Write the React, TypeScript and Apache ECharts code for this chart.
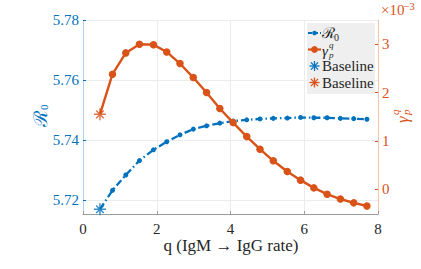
import React, { useEffect, useRef } from "react";
import * as echarts from "echarts";

// q values (IgM -> IgG rate); first entry is the baseline
const qValues = [0.46, 0.8, 1.16, 1.53, 1.91, 2.27, 2.63, 2.99, 3.35, 3.71, 4.07, 4.44, 4.8, 5.16, 5.54, 5.9, 6.26, 6.62, 6.98, 7.34, 7.7];
// R0 values (left axis)
const r0Values = [5.7169, 5.7232, 5.7283, 5.7331, 5.7367, 5.7394, 5.7417, 5.7436, 5.7447, 5.7456, 5.7463, 5.7467, 5.747, 5.7472, 5.7473, 5.7475, 5.7474, 5.7474, 5.7472, 5.7471, 5.7469];
// gamma_p^q values, in units of 10^-3 (right axis)
const gammaValues = [1.55, 2.38, 2.82, 3.0, 2.99, 2.84, 2.6, 2.31, 2.0, 1.67, 1.38, 1.09, 0.83, 0.59, 0.37, 0.19, 0.03, -0.1, -0.2, -0.28, -0.345];

const BLUE = "#0072BD";
const ORANGE = "#D95319";
const TXT = "#262626";
const FONT = "Liberation Serif";

const ASTERISK =
  "path://M8.8 0L11.2 0L11.2 20L8.8 20Z M0 8.8L20 8.8L20 11.2L0 11.2Z M2.8 4.5L4.5 2.8L17.2 15.5L15.5 17.2Z M15.5 2.8L17.2 4.5L4.5 17.2L2.8 15.5Z";

function asteriskLines(cx: number, cy: number, r: number, color: string) {
  const d = r * 0.72;
  const segs = [
    [cx - r, cy, cx + r, cy],
    [cx, cy - r, cx, cy + r],
    [cx - d, cy - d, cx + d, cy + d],
    [cx - d, cy + d, cx + d, cy - d],
  ];
  return segs.map((s) => ({
    type: "line",
    silent: true,
    z: 12,
    shape: { x1: s[0], y1: s[1], x2: s[2], y2: s[3] },
    style: { stroke: color, lineWidth: 1.3 },
  }));
}

function txt(text: string, x: number, y: number, fill: string, fontSize: number, italic = false, align = "left") {
  const st: any = {
    text,
    x,
    y,
    fill,
    fontSize,
    fontFamily: FONT,
    textAlign: align,
    textVerticalAlign: "middle",
  };
  if (italic) st.fontStyle = "italic";
  return { type: "text", silent: true, z: 12, style: st };
}

export default function App() {
  const ref = useRef<HTMLDivElement>(null);
  useEffect(() => {
    if (!ref.current) return;
    const chart = echarts.init(ref.current, null, { renderer: "svg" });
    const r0Data = qValues.map((q, i) =>
      i === 0 ? { value: [q, r0Values[i]], symbol: "none" } : [q, r0Values[i]]
    );
    const gData = qValues.map((q, i) =>
      i === 0 ? { value: [q, gammaValues[i]], symbol: "none" } : [q, gammaValues[i]]
    );

    const rows = [33, 49.5, 66, 82.5];

    const option: any = {
      animation: false,
      backgroundColor: "#ffffff",
      grid: { left: 83, right: 43, top: 20, bottom: 55, outerBoundsMode: "none" },
      xAxis: {
        type: "value",
        min: 0,
        max: 8,
        interval: 2,
        axisLine: { show: true, onZero: false, lineStyle: { color: "#9b9b9b", width: 1 } },
        axisTick: { show: true, inside: true, length: 3, lineStyle: { color: "#9b9b9b" } },
        axisLabel: { color: TXT, fontSize: 15, fontFamily: FONT, margin: 7 },
        splitLine: { show: true, lineStyle: { color: "#ececec", width: 1 } },
      },
      yAxis: [
        {
          type: "value",
          position: "left",
          min: 5.7153,
          max: 5.78,
          splitNumber: 3,
          axisLine: { show: true, onZero: false, lineStyle: { color: "#b3d1ea", width: 1 } },
          axisTick: { show: true, inside: true, length: 3, lineStyle: { color: BLUE } },
          axisLabel: {
            color: BLUE,
            fontSize: 15,
            fontFamily: FONT,
            margin: 4,
            showMinLabel: false,
            formatter: (v: number) => v.toFixed(2),
          },
          splitLine: { show: true, lineStyle: { color: "#ececec", width: 1 } },
        },
        {
          type: "value",
          position: "right",
          min: -0.51,
          max: 3.5,
          splitNumber: 4,
          axisLine: { show: true, onZero: false, lineStyle: { color: "#f4c3ad", width: 1 } },
          axisTick: { show: true, inside: true, length: 3, lineStyle: { color: ORANGE } },
          axisLabel: {
            color: ORANGE,
            fontSize: 15,
            fontFamily: FONT,
            margin: 4,
            showMinLabel: false,
            showMaxLabel: false,
            formatter: (v: number) => String(Math.round(v)),
          },
          splitLine: { show: false },
        },
      ],
      series: [
        {
          type: "line",
          name: "R0",
          yAxisIndex: 0,
          data: r0Data,
          symbol: "circle",
          symbolSize: 5,
          lineStyle: { color: BLUE, width: 2.3, type: [7, 3, 1.5, 3] },
          itemStyle: { color: BLUE },
          z: 3,
        },
        {
          type: "line",
          name: "gamma",
          yAxisIndex: 1,
          data: gData,
          symbol: "circle",
          symbolSize: 7.5,
          lineStyle: { color: ORANGE, width: 2.4 },
          itemStyle: { color: ORANGE },
          z: 4,
        },
        {
          type: "scatter",
          name: "Baseline R0",
          yAxisIndex: 0,
          data: [[qValues[0], r0Values[0]]],
          symbol: ASTERISK,
          symbolSize: 12,
          itemStyle: { color: BLUE },
          z: 5,
        },
        {
          type: "scatter",
          name: "Baseline gamma",
          yAxisIndex: 1,
          data: [[qValues[0], gammaValues[0]]],
          symbol: ASTERISK,
          symbolSize: 12,
          itemStyle: { color: ORANGE },
          z: 5,
        },
      ],
      graphic: [
        {
          type: "line",
          silent: true,
          shape: { x1: 83, y1: 20.5, x2: 378, y2: 20.5 },
          style: { stroke: "#9b9b9b", lineWidth: 1 },
        },
        // x-axis title
        txt("q (IgM → IgG rate)", 231, 245, TXT, 17, false, "center"),
        // left axis title R0
        {
          type: "group",
          x: 40,
          y: 116,
          rotation: Math.PI / 2,
          silent: true,
          children: [txt("ℛ", -11, 0, BLUE, 19), txt("0", 6, 4, BLUE, 11)],
        },
        // right axis title gamma_p^q
        {
          type: "group",
          x: 401,
          y: 116,
          rotation: Math.PI / 2,
          silent: true,
          children: [
            txt("γ", -7, 1, ORANGE, 17, true),
            txt("q", 1, -6, ORANGE, 11, true),
            txt("p", 1, 5, ORANGE, 11, true),
          ],
        },
        // multiplier
        txt("×10", 381, 10, ORANGE, 15),
        txt("−3", 403, 6, ORANGE, 11),
        // legend
        {
          type: "rect",
          silent: true,
          z: 10,
          shape: { x: 307, y: 23, width: 68, height: 71 },
          style: { fill: "#efefef", stroke: "none" },
        },
        { type: "line", silent: true, z: 12, shape: { x1: 308, y1: rows[0], x2: 321, y2: rows[0] }, style: { stroke: BLUE, lineWidth: 2.2, lineDash: [4, 2] } },
        { type: "circle", silent: true, z: 12, shape: { cx: 314.5, cy: rows[0], r: 2.3 }, style: { fill: BLUE } },
        txt("ℛ", 322, rows[0], TXT, 15),
        txt("0", 334, rows[0] + 4, TXT, 10),
        { type: "line", silent: true, z: 12, shape: { x1: 308, y1: rows[1], x2: 321, y2: rows[1] }, style: { stroke: ORANGE, lineWidth: 2.2 } },
        { type: "circle", silent: true, z: 12, shape: { cx: 314.5, cy: rows[1], r: 3.4 }, style: { fill: ORANGE } },
        txt("γ", 322, rows[1] + 1, TXT, 15, true),
        txt("q", 329, rows[1] - 5, TXT, 9, true),
        txt("p", 329, rows[1] + 5, TXT, 9, true),
        ...asteriskLines(314.5, rows[2], 5, BLUE),
        txt("Baseline", 322, rows[2], TXT, 15),
        ...asteriskLines(314.5, rows[3], 5, ORANGE),
        txt("Baseline", 322, rows[3], TXT, 15),
      ],
    };
    chart.setOption(option);
    return () => chart.dispose();
  }, []);
  return (
    <div
      ref={ref}
      style={{ position: "fixed", left: 0, top: 0, width: 421, height: 269, background: "#fff" }}
    />
  );
}
